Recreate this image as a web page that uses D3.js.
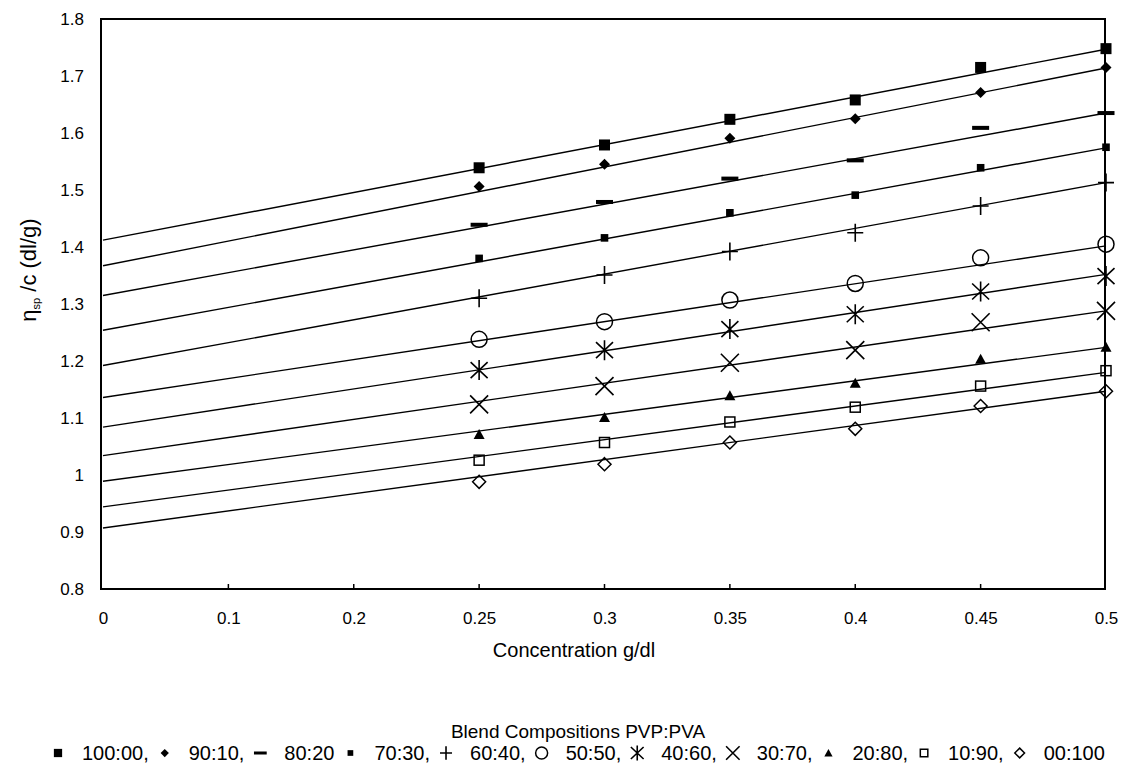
<!DOCTYPE html>
<html><head><meta charset="utf-8">
<script src="https://cdn.jsdelivr.net/npm/d3@7"></script>
<style>
html,body{margin:0;padding:0;background:#fff;}
text{font-family:"Liberation Sans",Arial,sans-serif;fill:#000;}
</style></head>
<body><svg id="chart" width="1121" height="767"></svg>
<script>
// ---------------- data ----------------
const categories = ["0","0.1","0.2","0.25","0.3","0.35","0.4","0.45","0.5"];
const dataCategories = ["0.25","0.3","0.35","0.4","0.45","0.5"];
const seriesNames = ["100:00","90:10","80:20","70:30","60:40","50:50","40:60","30:70","20:80","10:90","00:100"];
const legendLabels = ["100:00,","90:10,","80:20","70:30,","60:40,","50:50,","40:60,","30:70,","20:80,","10:90,","00:100"];
const markerTypes = ["square","diamond","dash","smallSquare","plus","circle","asterisk","cross","triangle","openSquare","openDiamond"];

const pvp100 = [1.539, 1.579, 1.624, 1.658, 1.715, 1.748];
const pvp90  = [1.506, 1.545, 1.591, 1.625, 1.671, 1.715];
const pvp80  = [1.439, 1.479, 1.520, 1.552, 1.609, 1.635];
const pvp70  = [1.380, 1.416, 1.460, 1.491, 1.539, 1.575];
const pvp60  = [1.310, 1.351, 1.392, 1.425, 1.472, 1.513];
const pvp50  = [1.238, 1.269, 1.307, 1.336, 1.381, 1.405];
const pvp40  = [1.184, 1.219, 1.256, 1.282, 1.322, 1.349];
const pvp30  = [1.124, 1.156, 1.197, 1.219, 1.268, 1.288];
const pvp20  = [1.071, 1.101, 1.139, 1.161, 1.203, 1.224];
const pvp10  = [1.026, 1.057, 1.093, 1.119, 1.156, 1.183];
const pvp00  = [0.988, 1.019, 1.057, 1.081, 1.121, 1.147];
const seriesValues = [pvp100,pvp90,pvp80,pvp70,pvp60,pvp50,pvp40,pvp30,pvp20,pvp10,pvp00];

// linear trend lines: value at concentration 0 and at 0.5
const trendStart = [1.412, 1.367, 1.315, 1.254, 1.192, 1.136, 1.084, 1.034, 0.989, 0.944, 0.907];
const trendEnd   = [1.747, 1.714, 1.635, 1.574, 1.513, 1.402, 1.352, 1.288, 1.224, 1.180, 1.147];

const yTicks = [0.8,0.9,1.0,1.1,1.2,1.3,1.4,1.5,1.6,1.7,1.8];
const yTickLabels = ["0.8","0.9","1","1.1","1.2","1.3","1.4","1.5","1.6","1.7","1.8"];
const xTitle = "Concentration g/dl";
const legendTitle = "Blend Compositions PVP:PVA";

// ---------------- layout ----------------
const svg = d3.select("#chart");
const plot = {left:101, right:1105, top:19, bottom:589};
const x = d3.scalePoint().domain(categories).range([103, 1106]);
const y = d3.scaleLinear().domain([0.8, 1.8]).range([plot.bottom, plot.top]);

// frame
svg.append("rect").attr("x",plot.left).attr("y",plot.top)
  .attr("width",plot.right-plot.left).attr("height",plot.bottom-plot.top)
  .attr("fill","none").attr("stroke","#000").attr("stroke-width",2);

// y axis labels
const yAxis = d3.axisLeft(y).tickValues(yTicks).tickSize(0).tickPadding(17)
  .tickFormat((d,i)=>yTickLabels[i]);
const gy = svg.append("g").attr("transform",`translate(${plot.left},0)`).call(yAxis);
gy.select(".domain").remove();
gy.selectAll("text").style("font-size","17px").style("font-family","'Liberation Sans',Arial,sans-serif");

// x axis
const xAxis = d3.axisBottom(x).tickSize(0).tickPadding(23);
const gx = svg.append("g").attr("transform",`translate(0,${plot.bottom})`).call(xAxis);
gx.select(".domain").remove();
gx.selectAll("text").style("font-size","17px").style("font-family","'Liberation Sans',Arial,sans-serif");
// small inner tick marks
svg.append("g").selectAll("line").data(categories.slice(1,-1)).join("line")
  .attr("x1",d=>x(d)).attr("x2",d=>x(d))
  .attr("y1",plot.bottom).attr("y2",plot.bottom-5)
  .attr("stroke","#000").attr("stroke-width",1.5);

// axis titles
svg.append("text").attr("x",574).attr("y",657).attr("text-anchor","middle")
  .style("font-size","20px").text(xTitle);
const yt = svg.append("text").attr("transform","translate(36,270) rotate(-90)")
  .attr("text-anchor","middle").style("font-size","22px");
yt.append("tspan").text("η");
yt.append("tspan").attr("dy",4).style("font-size","11px").text("sp");
yt.append("tspan").attr("dy",-4).text(" /c (dl/g)");

// ---------------- markers ----------------
function marker(g, type, s) {
  s = s || 1;
  const k = v => v*s;
  switch(type){
    case "square": g.append("rect").attr("x",k(-5.5)).attr("y",k(-5.5)).attr("width",k(11)).attr("height",k(11)).attr("fill","#000"); break;
    case "diamond": g.append("path").attr("d",`M0,${k(-5.5)}L${k(5.5)},0L0,${k(5.5)}L${k(-5.5)},0Z`).attr("fill","#000"); break;
    case "dash": g.append("rect").attr("x",k(-8.5)).attr("y",k(-2)).attr("width",k(17)).attr("height",k(4)).attr("fill","#000"); break;
    case "smallSquare": g.append("rect").attr("x",k(-3.8)).attr("y",k(-3.8)).attr("width",k(7.6)).attr("height",k(7.6)).attr("fill","#000"); break;
    case "plus": g.append("path").attr("d",`M0,${k(-9)}V${k(9)}M${k(-8)},0H${k(8)}`).attr("stroke","#000").attr("stroke-width",1.6).attr("fill","none"); break;
    case "circle": g.append("circle").attr("r",k(8)).attr("fill","none").attr("stroke","#000").attr("stroke-width",1.5); break;
    case "asterisk": g.append("path").attr("d",`M0,${k(-10)}V${k(10)}M${k(-8.5)},${k(-8)}L${k(8.5)},${k(8)}M${k(-8.5)},${k(8)}L${k(8.5)},${k(-8)}`).attr("stroke","#000").attr("stroke-width",1.6).attr("fill","none"); break;
    case "cross": g.append("path").attr("d",`M${k(-9)},${k(-9)}L${k(9)},${k(9)}M${k(-9)},${k(9)}L${k(9)},${k(-9)}`).attr("stroke","#000").attr("stroke-width",1.6).attr("fill","none"); break;
    case "triangle": g.append("path").attr("d",`M0,${k(-5.5)}L${k(5.5)},${k(4.5)}L${k(-5.5)},${k(4.5)}Z`).attr("fill","#000"); break;
    case "openSquare": g.append("rect").attr("x",k(-5)).attr("y",k(-5)).attr("width",k(10)).attr("height",k(10)).attr("fill","none").attr("stroke","#000").attr("stroke-width",1.5); break;
    case "openDiamond": g.append("path").attr("d",`M0,${k(-6.5)}L${k(6.5)},0L0,${k(6.5)}L${k(-6.5)},0Z`).attr("fill","none").attr("stroke","#000").attr("stroke-width",1.5); break;
  }
}

// ---------------- trend lines and points ----------------
const gLines = svg.append("g");
seriesNames.forEach((name,i)=>{
  gLines.append("line")
    .attr("x1",x(categories[0])).attr("y1",y(trendStart[i]))
    .attr("x2",x(categories[categories.length-1])).attr("y2",y(trendEnd[i]))
    .attr("stroke","#000").attr("stroke-width",1.4);
});
const gPts = svg.append("g");
seriesNames.forEach((name,i)=>{
  seriesValues[i].forEach((v,j)=>{
    const g = gPts.append("g").attr("transform",`translate(${x(dataCategories[j])},${y(v)})`);
    marker(g, markerTypes[i], 1);
  });
});

// ---------------- legend ----------------
svg.append("text").attr("x",578).attr("y",738).attr("text-anchor","middle")
  .style("font-size","19px").text(legendTitle);
const lg = svg.append("g");
let cx = 58;
const ly = 753;
legendLabels.forEach((lab,i)=>{
  const mg = lg.append("g").attr("transform",`translate(${cx},${ly})`);
  marker(mg, markerTypes[i], 0.75);
  const t = lg.append("text").attr("x",cx+24).attr("y",ly+7).style("font-size","20px").text(lab);
  const w = t.node().getComputedTextLength();
  cx = cx + 24 + w + 16;
});
</script></body></html>
